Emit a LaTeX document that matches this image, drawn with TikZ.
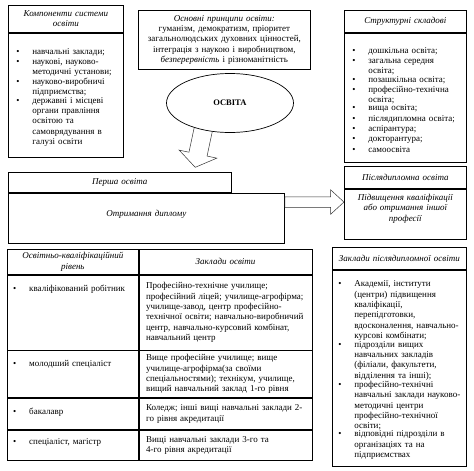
\documentclass[tikz,border=0pt]{standalone}
\usepackage{fontspec}
\setmainfont{Liberation Serif}
\usepackage{tikz}
\usetikzlibrary{positioning, shapes.geometric, shapes.arrows}
\definecolor{frame}{HTML}{000000}
\definecolor{arrLine}{HTML}{333333}
\newcommand{\itm}[1]{\par\noindent\hbox to 16pt{\textbullet\hfil}\parbox[t]{\dimexpr\hsize-16pt\relax}{\raggedright #1}\par}

\begin{document}
\begin{tikzpicture}[x=1pt, y=-1pt,
  box/.style={draw=frame, line width=0.7pt, inner sep=0pt, font=\fontsize{9}{10.3}\selectfont},
  hdr/.style={box, align=center, font=\fontsize{9}{10.3}\selectfont\itshape},
  lst/.style={box, align=left, inner xsep=8pt},
  cell/.style={box, align=left, inner xsep=7pt},
  lvl/.style={inner sep=0pt, align=left, text width=118pt, font=\fontsize{9}{10.3}\selectfont},
  blk/.style={single arrow, draw=arrLine, line width=0.5pt, inner xsep=0pt}]
\useasboundingbox (0,0) rectangle (474,471);
\node[hdr, anchor=north west, minimum width=115pt, minimum height=27pt, text width=107pt] (komp) at (8,5) {Компоненти системи\\освіти};
\node[lst, below=0pt of komp, minimum width=115pt, minimum height=124pt, text width=99pt] (kompList) {\itm{навчальні заклади;}\itm{наукові, науково-\newline методичні установи;}\itm{науково-виробничі\newline підприємства;}\itm{державні і місцеві\newline органи правління\newline освітою та\newline самоврядування в\newline галузі освіти}};
\node[box, align=center, anchor=north west, minimum width=172pt, minimum height=59pt, text width=166pt] (princ) at (138,10) {\textit{Основні принципи освіти:}\\гуманізм, демократизм, пріоритет\\загальнолюдських духовних цінностей,\\інтеграція з наукою і виробництвом,\\\textit{безперервність} і різноманітність};
\node[hdr, anchor=north west, minimum width=122pt, minimum height=22pt, text width=114pt] (skl) at (344,10) {Структурні складові};
\node[lst, below=0pt of skl, minimum width=122pt, minimum height=129pt, text width=106pt] (sklList) {\itm{дошкільна освіта;}\itm{загальна середня\newline освіта;}\itm{позашкільна освіта;}\itm{професійно-технічна\newline освіта;}\itm{вища освіта;}\itm{післядипломна освіта;}\itm{аспірантура;}\itm{докторантура;}\itm{самоосвіта}};
\node[blk, minimum height=42pt, minimum width=38pt, inner ysep=9pt, single arrow head extend=10pt, single arrow tip angle=110, anchor=tail, rotate=-102] (down) at (204,126) {};
\node[ellipse, draw=frame, line width=0.7pt, fill=white, minimum width=127pt, minimum height=59pt, inner sep=0pt, font=\fontsize{8.5}{10}\selectfont\bfseries] (osvita) at (230,103) {ОСВІТА};
\node[hdr, anchor=north west, minimum width=223pt, minimum height=20pt, text width=215pt] (persha) at (8,172) {Перша освіта};
\node[hdr, anchor=north west, minimum width=276pt, minimum height=50pt, text width=268pt, text depth=10pt] (dyplom) at (persha.south west) {Отримання диплому};
\node[blk, minimum height=59pt, minimum width=24pt, inner ysep=5pt, single arrow head extend=7pt, single arrow tip angle=85, anchor=tail] (toPisl) at ([yshift=16pt]dyplom.east) {};
\node[hdr, anchor=north west, minimum width=122pt, minimum height=22pt, text width=114pt] (pisl) at (344,166) {Післядипломна освіта};
\node[hdr, below=0pt of pisl, minimum width=122pt, minimum height=50pt, text width=114pt, text depth=33pt] (pislBody) {Підвищення кваліфікації\\або отримання іншої\\професії};
\node[hdr, anchor=north west, minimum width=131pt, minimum height=25pt, text width=121pt] (h1) at (7,249) {Освітньо-кваліфікаційний\\рівень};
\node[hdr, right=0pt of h1, minimum width=173pt, minimum height=25pt, text width=159pt] (h2) {Заклади освіти};
\node[box, below=0pt of h1, minimum width=131pt, minimum height=75pt] (q1a) {};
\node[cell, below=0pt of h2, minimum width=173pt, minimum height=75pt, text width=159pt] (q1b) {Професійно-технічне училище;\newline професійний ліцей; училище-агрофірма;\newline училище-завод, центр професійно-\newline технічної освіти; навчально-виробничий\newline центр, навчально-курсовий комбінат,\newline навчальний центр};
\node[box, below=0pt of q1a, minimum width=131pt, minimum height=47pt] (q2a) {};
\node[cell, below=0pt of q1b, minimum width=173pt, minimum height=47pt, text width=159pt] (q2b) {Вище професійне училище; вище\newline училище-агрофірма(за своїми\newline спеціальностями); технікум, училище,\newline вищий навчальний заклад 1-го рівня};
\node[box, below=0pt of q2a, minimum width=131pt, minimum height=31pt] (q3a) {};
\node[cell, below=0pt of q2b, minimum width=173pt, minimum height=31pt, text width=159pt] (q3b) {Коледж; інші вищі навчальні заклади 2-\newline го рівня акредитації};
\node[box, below=0pt of q3a, minimum width=131pt, minimum height=30pt] (q4a) {};
\node[cell, below=0pt of q3b, minimum width=173pt, minimum height=30pt, text width=159pt] (q4b) {Вищі навчальні заклади 3-го та\newline 4-го рівня акредитації};
\node[lvl, anchor=north west] (lvl1) at ([xshift=6pt, yshift=-6pt]q1a.north west) {\itm{кваліфікований робітник}};
\node[lvl, anchor=north west] (lvl2) at ([xshift=6pt, yshift=-6pt]q2a.north west) {\itm{молодший спеціаліст}};
\node[lvl, anchor=north west] (lvl3) at ([xshift=6pt, yshift=-6pt]q3a.north west) {\itm{бакалавр}};
\node[lvl, anchor=north west] (lvl4) at ([xshift=6pt, yshift=-4pt]q4a.north west) {\itm{спеціаліст, магістр}};
\node[hdr, anchor=north west, minimum width=134pt, minimum height=22pt, text width=126pt] (zpo) at (332,247) {Заклади післядипломної освіти};
\node[lst, below=0pt of zpo, minimum width=134pt, minimum height=196pt, text width=122pt, inner xsep=6pt] (zpoList) {\itm{Академії, інститути\newline (центри) підвищення\newline кваліфікації,\newline перепідготовки,\newline вдосконалення, навчально-\newline курсові комбінати;}\itm{підрозділи вищих\newline навчальних закладів\newline (філіали, факультети,\newline відділення та інші);}\itm{професійно-технічні\newline навчальні заклади науково-\newline методичні центри\newline професійно-технічної\newline освіти;}\itm{відповідні підрозділи в\newline організаціях та на\newline підприємствах}};
\end{tikzpicture}
\end{document}
